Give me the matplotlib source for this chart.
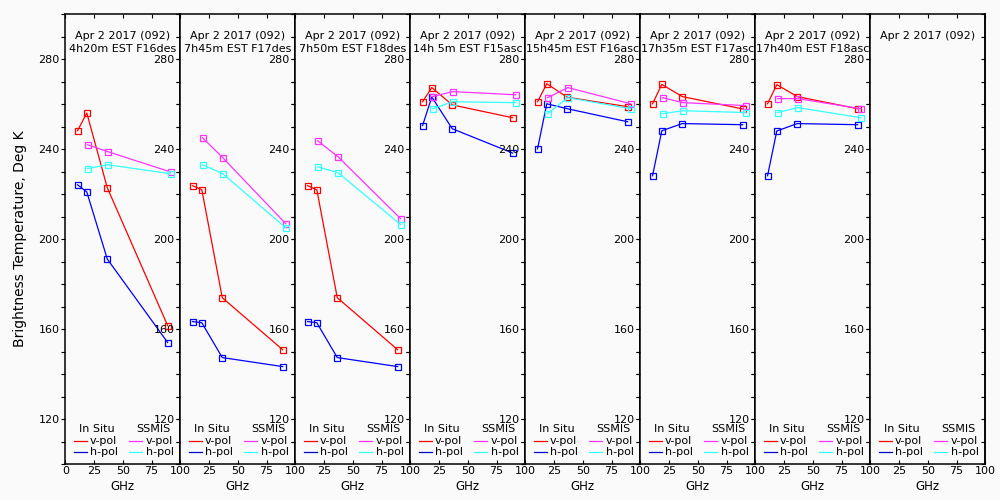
import matplotlib
matplotlib.use('Agg')
import matplotlib.pyplot as plt
import numpy as np

# ---------------- data ----------------
freq_insitu = [10.65, 18.7, 36.5, 89.0]
freq_ssmis = [19.35, 37.0, 91.655]

date_label = "Apr 2 2017 (092)"
time_labels = ["4h20m EST F16des", "7h45m EST F17des", "7h50m EST F18des",
               "14h 5m EST F15asc", "15h45m EST F16asc", "17h35m EST F17asc",
               "17h40m EST F18asc", ""]

insitu_v = [
    [248.1, 256.0, 222.8, 161.5],
    [223.7, 221.9, 173.9, 150.8],
    [223.7, 221.9, 173.9, 150.8],
    [261.0, 267.3, 259.6, 253.9],
    [261.0, 269.0, 263.0, 258.8],
    [260.1, 268.7, 263.3, 257.8],
    [260.1, 268.6, 263.3, 257.9],
    None]
insitu_h = [
    [224.1, 220.9, 191.1, 154.0],
    [163.3, 162.8, 147.3, 143.3],
    [163.3, 162.8, 147.3, 143.3],
    [250.4, 263.1, 249.0, 238.2],
    [240.1, 260.1, 257.9, 252.1],
    [228.1, 248.1, 251.3, 250.8],
    [228.1, 248.0, 251.3, 250.8],
    None]
ssmis_v = [
    [241.9, 238.8, 229.8],
    [245.0, 236.1, 206.8],
    [243.7, 236.6, 209.0],
    [263.3, 265.5, 264.1],
    [262.8, 267.3, 260.1],
    [262.8, 260.6, 259.3],
    [262.4, 262.4, 257.9],
    None]
ssmis_h = [
    [231.3, 233.0, 229.0],
    [233.0, 229.0, 205.0],
    [232.1, 229.5, 206.4],
    [257.9, 261.0, 260.6],
    [255.7, 262.8, 257.9],
    [255.7, 257.0, 256.2],
    [256.2, 258.4, 253.9],
    None]

x_ticks = [0, 25, 50, 75, 100]
y_ticks = list(range(100, 301, 10))
y_labels_at = [120, 160, 200, 240, 280]

# ---------------- style ----------------
BG = '#fafafa'
C_IV = '#ff0000'
C_IH = '#0000ff'
C_SV = '#ff33ff'
C_SH = '#33ffff'
FS = 8

plt.rcParams['font.family'] = ['DejaVu Sans']
fig = plt.figure(figsize=(10, 5), dpi=100, facecolor=BG)

n = 8
left0 = 0.0653
pw = 0.115
bottom = 0.072
height = 0.90

def series(ax, xs, ys, color):
    ax.plot(xs, ys, color=color, lw=0.9, marker='s', ms=3.8,
            mfc='none', mec=color, mew=0.9, clip_on=False, zorder=3)

for i in range(n):
    ax = fig.add_axes([left0 + i * pw, bottom, pw, height])
    ax.set_facecolor(BG)
    ax.set_xlim(0, 100)
    ax.set_ylim(100, 300)
    for s in ax.spines.values():
        s.set_linewidth(1.1)
        s.set_color('black')

    ax.set_xticks(x_ticks)
    if i == 0:
        ax.set_xticklabels([str(v) for v in x_ticks])
    else:
        ax.set_xticklabels([''] + [str(v) for v in x_ticks[1:]])
    ax.tick_params(axis='x', direction='in', top=True, bottom=True,
                   length=3, width=0.8, pad=1.5, labelsize=FS)

    ax.set_yticks(y_ticks)
    ax.set_yticklabels([str(v) if v in y_labels_at else '' for v in y_ticks])
    ax.tick_params(axis='y', direction='out', left=True, right=False,
                   length=3, width=0.8, pad=1, labelsize=FS)
    sec = ax.secondary_yaxis('right')
    sec.set_yticks(y_ticks)
    sec.set_yticklabels([])
    sec.tick_params(direction='in', length=3, width=0.8)
    sec.spines['right'].set_linewidth(1.1)

    ax.set_xlabel('GHz', fontsize=8.5, labelpad=3)

    # titles
    ax.text(0.5, 0.952, date_label, transform=ax.transAxes, ha='center',
            va='center', fontsize=FS)
    if time_labels[i]:
        ax.text(0.5, 0.922, time_labels[i], transform=ax.transAxes,
                ha='center', va='center', fontsize=FS)

    # data
    if insitu_v[i] is not None:
        series(ax, freq_insitu, insitu_v[i], C_IV)
        series(ax, freq_insitu, insitu_h[i], C_IH)
        series(ax, freq_ssmis, ssmis_v[i], C_SV)
        series(ax, freq_ssmis, ssmis_h[i], C_SH)

    # legend block
    ax.text(0.27, 0.078, 'In Situ', transform=ax.transAxes, ha='center',
            va='center', fontsize=FS)
    ax.text(0.77, 0.078, 'SSMIS', transform=ax.transAxes, ha='center',
            va='center', fontsize=FS)
    for (yy, lab, c1, c2) in [(0.051, 'v-pol', C_IV, C_SV),
                              (0.027, 'h-pol', '#0000cc', C_SH)]:
        ax.plot([0.078, 0.19], [yy, yy], transform=ax.transAxes, color=c1, lw=0.9)
        ax.text(0.215, yy, lab, transform=ax.transAxes, ha='left',
                va='center', fontsize=FS)
        ax.plot([0.556, 0.67], [yy, yy], transform=ax.transAxes, color=c2, lw=0.9)
        ax.text(0.70, yy, lab, transform=ax.transAxes, ha='left',
                va='center', fontsize=FS)

fig.text(0.02, bottom + height / 2, 'Brightness Temperature, Deg K',
         rotation=90, ha='center', va='center', fontsize=10)

fig.savefig('out.png', dpi=100, facecolor=BG)
